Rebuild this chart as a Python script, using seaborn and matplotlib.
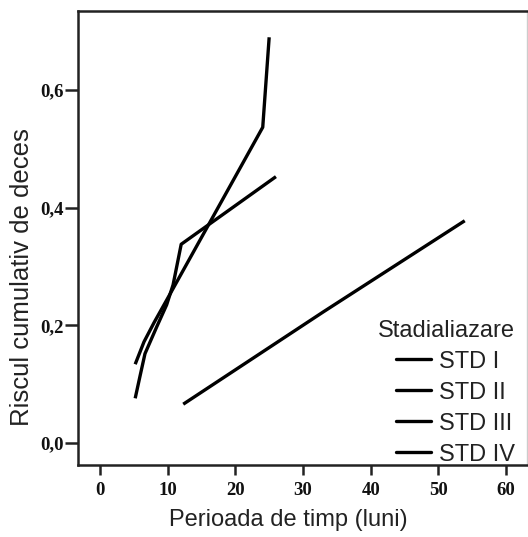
import numpy as np
import pandas as pd
import matplotlib
matplotlib.use("Agg")
import matplotlib.pyplot as plt
import seaborn as sns
from matplotlib.lines import Line2D

# Data
std2_x = [12.3, 33.0, 53.9]
std2_y = [0.066, 0.223, 0.378]
std3_x = [5.2, 5.9, 6.65, 8.4, 9.85, 10.8, 12.0, 26.0]
std3_y = [0.076, 0.113, 0.152, 0.198, 0.235, 0.269, 0.338, 0.453]
std4_x = [5.2, 6.5, 8.0, 9.85, 24.05, 25.0]
std4_y = [0.134, 0.172, 0.205, 0.243, 0.537, 0.690]

series_labels = ["STD I", "STD II", "STD III", "STD IV"]
x_ticks = [0, 10, 20, 30, 40, 50, 60]
y_ticks = [0.0, 0.2, 0.4, 0.6]
y_tick_labels = ["0,0", "0,2", "0,4", "0,6"]

sns.set_style("white")
plt.rcParams["font.family"] = ["Liberation Sans", "DejaVu Sans"]

fig = plt.figure(figsize=(5.28, 5.37), dpi=100)
ax = fig.add_axes([78 / 528, (537 - 465) / 537, (527 - 78) / 528, (465 - 11) / 537])

frames = []
for lab, xs, ys in [("STD II", std2_x, std2_y), ("STD III", std3_x, std3_y), ("STD IV", std4_x, std4_y)]:
    frames.append(pd.DataFrame({"t": xs, "h": ys, "grp": lab}))
df = pd.concat(frames, ignore_index=True)

for lab in ["STD II", "STD III", "STD IV"]:
    sub = df[df.grp == lab]
    sns.lineplot(data=sub, x="t", y="h", color="black", linewidth=2.4,
                 sort=False, estimator=None, ax=ax, legend=False,
                 solid_capstyle="butt")

ax.set_xlim(-3.25, 63.1)
ax.set_ylim(-0.0374, 0.7347)
ax.set_xticks(x_ticks)
ax.set_xticklabels([str(v) for v in x_ticks])
ax.set_yticks(y_ticks)
ax.set_yticklabels(y_tick_labels)

for lbl in ax.get_xticklabels() + ax.get_yticklabels():
    lbl.set_fontfamily("Liberation Serif")
    lbl.set_fontweight("bold")
    lbl.set_fontsize(13.5)
    lbl.set_color("#111111")

ax.tick_params(axis="both", which="major", direction="out", length=9.5, width=1.8,
               color="#222222", bottom=True, left=True)
ax.tick_params(axis="x", pad=5, length=7.5)
ax.tick_params(axis="y", pad=0.5)

for side in ["left", "bottom", "top"]:
    ax.spines[side].set_visible(True)
    ax.spines[side].set_color("#222222")
    ax.spines[side].set_linewidth(1.8)
ax.spines["right"].set_visible(True)
ax.spines["right"].set_color("#cccccc")
ax.spines["right"].set_linewidth(1.0)

ax.set_xlabel("Perioada de timp (luni)", fontsize=17, color="#222222", labelpad=8)
ax.set_ylabel("Riscul cumulativ de deces", fontsize=18.5, color="#222222")
ax.xaxis.set_label_coords(0.468, -0.098)
ax.yaxis.set_label_coords(-0.098, 0.414)

handles = [Line2D([0], [0], color="black", linewidth=2.4) for _ in series_labels]
leg = ax.legend(handles, series_labels, title="Stadialiazare", loc="lower right",
                bbox_to_anchor=(0.995, -0.022), frameon=False, fontsize=17,
                title_fontsize=17, handlelength=1.5, handletextpad=0.35,
                labelspacing=0.38, alignment="right", borderaxespad=0.0)
for t in leg.get_texts():
    t.set_color("#222222")
leg.get_title().set_color("#222222")

fig.savefig("out.png", dpi=100)
